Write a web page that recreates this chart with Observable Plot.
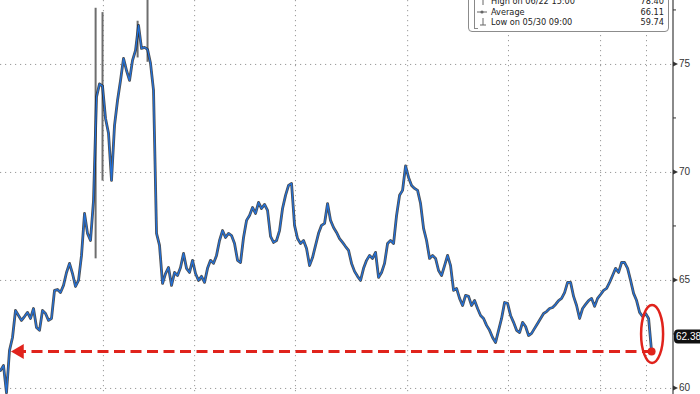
<!DOCTYPE html>
<html><head><meta charset="utf-8">
<script src="https://cdn.jsdelivr.net/npm/d3@7"></script>
<script src="https://cdn.jsdelivr.net/npm/@observablehq/plot@0.6"></script>
<style>
body{margin:0;background:#fff;font-family:"Liberation Sans",Arial,sans-serif;}
#wrap{position:relative;width:700px;height:394px;overflow:hidden;background:#fff;}
#legend{position:absolute;left:468px;top:-11px;width:201px;height:43px;border:1px solid #8c8c8c;border-radius:4px;background:#fff;font-family:"DejaVu Sans",sans-serif;font-size:8.2px;color:#222;box-sizing:border-box;}
#legend .row{position:absolute;left:22px;right:4px;height:10px;line-height:10px;white-space:nowrap;}
#legend .row .v{position:absolute;right:0;top:0;}
#legend .ic{position:absolute;left:-15px;top:0;width:12px;height:10px;}
#legend .tree{position:absolute;left:5px;top:0;width:3px;height:38px;border-left:1px solid #888;border-bottom:1px solid #888;}
</style></head><body>
<div id="wrap"></div>
<script>
// price series sampled at equal time steps (oldest -> latest)
const prices = [
60.83,61.06,59.80,61.76,62.36,63.61,63.38,63.15,63.33,63.52,
63.24,63.70,62.82,62.69,63.61,63.47,63.15,63.24,64.54,64.58,
64.44,64.77,65.37,65.79,65.32,64.72,65.00,66.16,68.10,67.18,
66.85,68.70,73.50,74.10,74.00,72.50,71.81,69.63,72.18,73.33,
74.26,75.28,74.72,74.26,75.19,75.65,76.81,75.74,75.79,75.70,
75.05,73.80,67.18,66.62,64.86,65.32,65.60,64.77,65.37,65.23,
65.60,66.25,65.56,65.37,65.93,65.32,65.00,65.19,64.91,65.56,
65.93,65.79,66.16,66.85,67.31,66.99,67.18,67.08,66.71,65.93,
65.83,66.99,67.78,68.01,68.38,68.10,68.61,68.33,68.52,68.24,
67.04,66.76,66.85,67.31,68.33,68.94,69.40,69.49,67.55,66.94,
66.71,66.85,66.48,65.69,66.06,66.62,67.18,67.55,67.64,68.56,
67.78,67.45,67.22,66.94,66.76,66.57,66.39,65.79,65.42,65.19,
65.00,65.56,65.93,66.16,66.02,66.30,65.14,65.37,65.79,66.71,
66.85,66.71,68.01,68.94,69.17,70.30,69.77,69.40,69.26,69.17,
68.56,67.41,66.85,66.02,66.16,66.02,65.46,65.23,65.69,66.16,
65.69,64.54,64.63,64.17,63.84,64.31,64.26,63.84,64.07,63.70,
63.38,63.24,62.92,62.69,62.36,62.13,62.69,63.24,63.98,63.94,
63.38,63.06,62.69,62.59,63.06,62.87,62.45,62.55,62.78,63.01,
63.24,63.47,63.56,63.70,63.75,63.89,64.07,64.17,64.44,64.91,
64.91,64.26,63.84,63.24,63.70,63.89,64.07,64.17,63.80,64.17,
64.35,64.54,64.63,64.91,65.23,65.56,65.37,65.83,65.83,65.56,
65.00,64.40,64.07,63.52,63.33,63.47,63.24,61.71
];
// a few wide-range bars (spikes) at given steps
const spikeSteps = [31.7, 34.0, 45.7, 49.0];
const spikeHighs = [77.6, 77.4, 77.0, 78.4];
const spikeLows  = [66.0, 69.6, 75.3, 75.1];
const xDomain = [0, 224.3];
const gridSteps = [34.3, 64.7, 98.3, 135.7, 169.3, 200, 215.3];
const yDomain = [59.72, 77.96];
const yTicks = [60, 65, 70, 75];
const yMinorTicks = [62.5, 67.5, 72.5, 77.5];
const lastPriceLabel = "62.38";
const lastPriceTag = 62.38;
const arrowTipStep = 5;
const circleRange = [61.16, 63.84];
const legendLabels = ["High on 06/22 15:00", "Average", "Low on 05/30 09:00"];
const legendValues = ["78.40", "66.11", "59.74"];

const RED = "#e0231c";
const data = prices.map((v, i) => ({i, v}));
const spikes = spikeSteps.map((s, k) => ({s, hi: spikeHighs[k], lo: spikeLows[k]}));
const last = data[data.length - 1];
const AXFONT = "Liberation Sans, Arial, sans-serif";

const rightAxis = (index, scales, values, dim) => {
  const g = d3.create("svg:g").attr("text-anchor", "start").attr("font-family", AXFONT);
  const x0 = dim.width - dim.marginRight;
  g.append("line").attr("x1", x0).attr("x2", x0).attr("y1", 0).attr("y2", dim.height)
    .attr("stroke", "#8a8a8a").attr("stroke-width", 2);
  for (const t of yTicks) {
    const y = scales.y(t);
    g.append("path").attr("d", `M${x0},${y-2.5}L${x0+5},${y}L${x0},${y+2.5}Z`).attr("fill", "#333");
    g.append("text").attr("x", x0 + 6).attr("y", y).attr("dy", "0.35em")
      .attr("font-size", 10).attr("fill", "#333").text(t);
  }
  for (const t of yMinorTicks) {
    const y = scales.y(t);
    g.append("line").attr("x1", x0).attr("x2", x0 + 3).attr("y1", y).attr("y2", y)
      .attr("stroke", "#333").attr("stroke-width", 1);
  }
  const yl = scales.y(lastPriceTag);
  g.append("rect").attr("x", x0 + 1).attr("y", yl - 7).attr("width", 30).attr("height", 14)
    .attr("rx", 4).attr("fill", "#111");
  g.append("text").attr("x", x0 + 3).attr("y", yl).attr("dy", "0.36em")
    .attr("font-size", 10).attr("fill", "#fff").text(lastPriceLabel);
  return g.node();
};

const ellipse = (index, scales) => {
  const y1 = scales.y(circleRange[1]), y2 = scales.y(circleRange[0]);
  return d3.create("svg:ellipse")
    .attr("cx", scales.x(last.i) + 1).attr("cy", (y1 + y2) / 2)
    .attr("rx", 11).attr("ry", (y2 - y1) / 2)
    .attr("fill", "none").attr("stroke", RED).attr("stroke-width", 2.5).node();
};

const chart = Plot.plot({
  width: 700, height: 394,
  marginLeft: 0, marginRight: 27, marginTop: 0, marginBottom: 0,
  x: {domain: xDomain, axis: null},
  y: {domain: yDomain, axis: null},
  style: {background: "white", fontFamily: AXFONT, overflow: "visible"},
  marks: [
    Plot.ruleY(yTicks, {stroke: "#9a9a9a", strokeDasharray: "1.2,3.8", strokeWidth: 1}),
    Plot.ruleX(gridSteps, {stroke: "#9a9a9a", strokeDasharray: "1.2,3.8", strokeWidth: 1}),
    Plot.ruleX(spikes, {x: "s", y1: "lo", y2: "hi", stroke: "#6e6e6e", strokeWidth: 2, clip: true}),
    Plot.line(data, {x: "i", y: "v", stroke: "#111", strokeWidth: 2.8, strokeOpacity: 0.75, clip: true}),
    Plot.line(data, {x: "i", y: "v", stroke: "#2270d8", strokeWidth: 1.3, clip: true}),
    Plot.ruleY([{y: last.v, x1: arrowTipStep, x2: last.i}],
      {y: "y", x1: "x1", x2: "x2", stroke: RED, strokeWidth: 3.2, strokeDasharray: "11,5.5"}),
    Plot.dot([{i: arrowTipStep, v: last.v}], {x: "i", y: "v", symbol: "triangle", rotate: -90, r: 5.5, fill: RED, dx: 4}),
    Plot.dot([last], {x: "i", y: "v", r: 4, fill: RED}),
    ellipse,
    rightAxis
  ]
});

const wrap = document.getElementById("wrap");
wrap.appendChild(chart);

const icons = [
  '<svg class="ic" viewBox="0 0 12 10"><line x1="4" y1="2" x2="10" y2="2" stroke="#666"/><line x1="7" y1="2" x2="7" y2="9" stroke="#666"/></svg>',
  '<svg class="ic" viewBox="0 0 12 10"><line x1="1" y1="5" x2="11" y2="5" stroke="#666"/><circle cx="6" cy="5" r="1.6" fill="#666"/></svg>',
  '<svg class="ic" viewBox="0 0 12 10"><line x1="7" y1="1" x2="7" y2="8" stroke="#666"/><line x1="4" y1="8" x2="10" y2="8" stroke="#666"/></svg>'
];
const lg = document.createElement("div");
lg.id = "legend";
const tree = document.createElement("div");
tree.className = "tree";
lg.appendChild(tree);
legendLabels.forEach((label, k) => {
  const row = document.createElement("div");
  row.className = "row";
  row.style.top = (6 + k * 10.5) + "px";
  row.innerHTML = `${icons[k]}<span>${label}</span><span class="v">${legendValues[k]}</span>`;
  lg.appendChild(row);
});
wrap.appendChild(lg);
</script>
</body></html>
